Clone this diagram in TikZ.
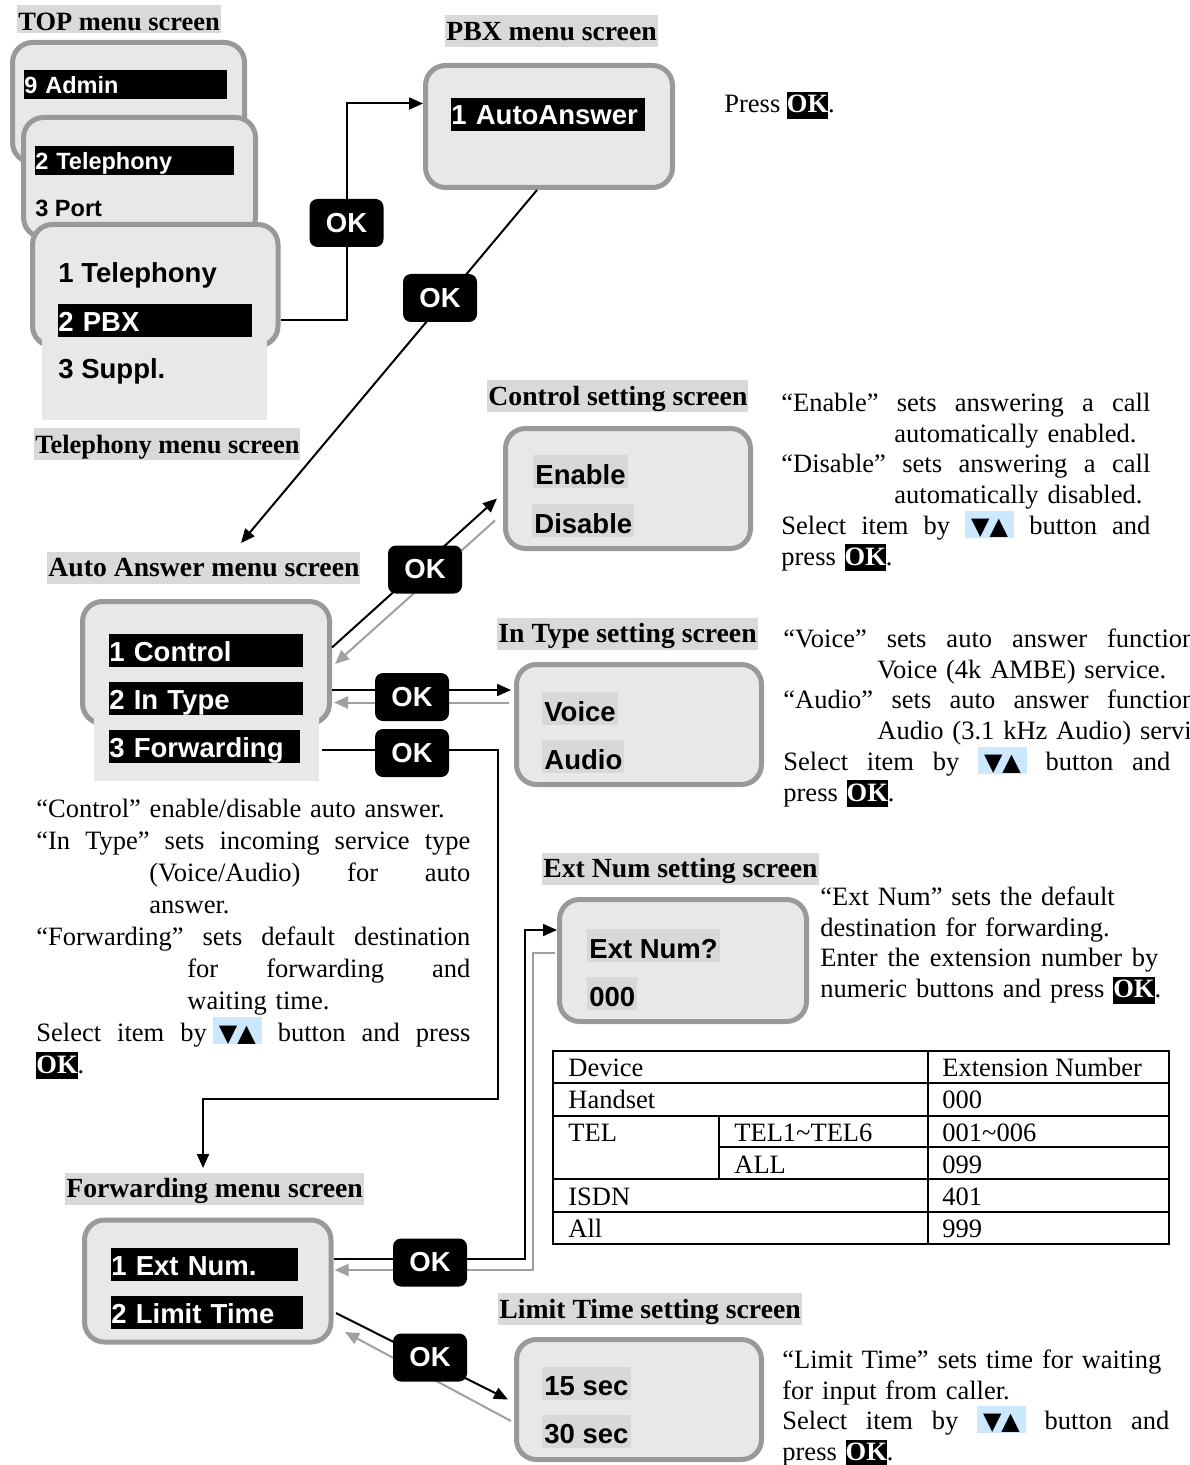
\documentclass[tikz,border=0pt]{standalone}
\usepackage{fontspec}
\setmainfont{Liberation Serif}
\newfontfamily\lcdfont{Liberation Sans}
\newfontfamily\dvsym{DejaVu Sans}
\usetikzlibrary{fit,arrows.meta,calc}
\definecolor{scrfill}{HTML}{E8E8E8}
\definecolor{scrdraw}{HTML}{999999}
\definecolor{headbg}{HTML}{D9D9D9}
\definecolor{lblbg}{HTML}{D8D8D8}
\definecolor{backgray}{HTML}{A0A0A0}
\definecolor{keybg}{HTML}{CCE8FF}
\newcommand\okk{{\setlength\fboxsep{0pt}\smash{\colorbox{black}{\textcolor{white}{\bfseries\rule[-3pt]{0pt}{13.5pt}OK}}}}}
\newcommand\updn{{\setlength\fboxsep{0pt}\smash{\colorbox{keybg}{\rule[-1.5pt]{0pt}{13.5pt}\hspace{3pt}{\dvsym\fontsize{12}{12}\selectfont ▼▲}\hspace{3pt}}}}}
\newcommand\jl[2]{\makebox[#1][s]{\spaceskip=0.25em plus 10em\relax #2}}
\tikzset{
 screen/.style={draw=scrdraw, line width=2.5pt, fill=scrfill, rounded corners=10pt, inner sep=0pt},
 scrext/.style={fill=scrfill, draw=none, inner sep=0pt},
 head/.style={fill=headbg, font=\bfseries\fontsize{13.85}{15}\selectfont, inner xsep=0.5pt, inner ysep=0pt, text height=12.5pt, text depth=3.5pt, minimum height=16pt, anchor=west},
 bar/.style={fill=black, text=white, font=\lcdfont\bfseries\fontsize{13.75}{15}\selectfont, inner sep=0pt, anchor=west, align=left, minimum height=16.5pt, text height=13.5pt, text depth=3pt},
 smallbar/.style={bar, font=\lcdfont\bfseries\fontsize{11.75}{13}\selectfont, minimum height=14.5pt, text height=11.7pt, text depth=2.8pt},
 lbl/.style={fill=lblbg, font=\lcdfont\bfseries\fontsize{13.75}{15}\selectfont, inner xsep=1pt, inner ysep=0pt, text height=14.5pt, text depth=2pt, minimum height=16.5pt, anchor=west},
 lcdtxt/.style={font=\lcdfont\bfseries\fontsize{13.75}{15}\selectfont, inner sep=0pt, anchor=base west},
 okbtn/.style={fill=black, rounded corners=4pt, text=white, font=\lcdfont\bfseries\fontsize{13.75}{15}\selectfont, minimum width=37pt, minimum height=24pt, inner sep=0pt},
 conn/.style={draw=black, line width=1pt, -{Triangle[length=7pt,width=6pt]}},
 backconn/.style={draw=backgray, line width=1pt, -{Triangle[length=7pt,width=6pt]}},
 desc/.style={font=\fontsize{13.25}{15.4}\selectfont, inner sep=0pt, anchor=north west, align=left, text width=#1},
 tbl/.style={draw=black, line width=1.2pt},
 tcell/.style={font=\fontsize{13.25}{15.4}\selectfont, inner sep=0pt, anchor=base west},
}
\begin{document}
\begin{tikzpicture}[x=0.5pt,y=-0.5pt]
\useasboundingbox (0,0) rectangle (1189,1465);
\clip (0,0) rectangle (1189,1465);

% ---------- headings ----------
\node[head, font=\bfseries\fontsize{13.2}{15}\selectfont, text height=13pt, text depth=1pt, minimum height=14pt] (headTop) at (17,19) {TOP menu screen};
\node[head] (headPbx) at (445,31.5) {PBX menu screen};
\node[head, font=\bfseries\fontsize{13.2}{15}\selectfont] (headTel) at (34,444) {Telephony menu screen};
\node[head] (headCtrl) at (487,396) {Control setting screen};
\node[head] (headAA) at (47,567.5) {Auto Answer menu screen};
\node[head] (headIT) at (497,633.5) {In Type setting screen};
\node[head] (headExt) at (542,868.5) {Ext Num setting screen};
\node[head] (headFwd) at (65,1188.5) {Forwarding menu screen};
\node[head] (headLim) at (498,1309) {Limit Time setting screen};

% ---------- TOP / Telephony stack ----------
\node[screen, fit={(12.5,42.5) (244.5,162.5)}] (scrTop) {};
\node[smallbar, text width=101.5pt] (barAdmin) at (24,84.5) {9 Admin};
\node[screen, fit={(23.5,117.5) (255.5,237.5)}] (scrTel2) {};
\node[smallbar, text width=99.5pt] (barTel2) at (35,160.5) {2 Telephony};
\node[lcdtxt, font=\lcdfont\bfseries\fontsize{11.75}{13}\selectfont] (txtPort) at (35,217) {3 Port};
\node[screen, fit={(32.5,224.5) (278,346)}] (scrTel) {};
\node[scrext, fit={(42,336) (267,420)}] (extTel) {};
\node[lcdtxt] (txtTel1) at (58,283) {1 Telephony};
\node[bar, text width=97pt] (barPBX) at (58,320.5) {2 PBX};
\node[lcdtxt] (txtSuppl) at (58,379) {3 Suppl.};

% ---------- PBX ----------
\node[screen, fit={(425.5,65.5) (672.5,187.5)}] (scrPbx) {};
\node[bar, text width=97pt] (barAuto) at (451,114.5) {1 AutoAnswer};
\node[anchor=base west, inner sep=0pt, font=\fontsize{13.25}{15.4}\selectfont] (pressok) at (724,113) {Press \okk.};

% ---------- Control ----------
\node[screen, fit={(505.5,428.5) (750.5,548.5)}] (scrCtrl) {};
\node[lbl] (lblEnable) at (533,471.5) {Enable};
\node[lbl] (lblDisable) at (532,520.5) {Disable};
\node[desc=200pt] (txtCtrl) at (781,389.4) {\strut\jl{184.5pt}{“Enable” sets answering a call}\\
\hspace*{56.5pt}automatically enabled.\\
\jl{184.5pt}{“Disable” sets answering a call}\\
\hspace*{56.5pt}automatically disabled.\\
\jl{184.5pt}{Select item by \updn{} button and}\\
press \okk.};

% ---------- Auto Answer ----------
\node[screen, fit={(82.5,601.5) (329.5,723.5)}] (scrAA) {};
\node[scrext, fit={(94,714) (319,781)}] (extAA) {};
\node[bar, text width=97pt] (barCtrl) at (109,650.5) {1 Control};
\node[bar, text width=97pt] (barInType) at (109,698.5) {2 In Type};
\node[bar, text width=95.5pt] (barFwd) at (109,746.5) {3 Forwarding};
\node[desc=220pt, font=\fontsize{13.25}{16}\selectfont] (txtAA) at (36,794.6) {\strut“Control” enable/disable auto answer.\\
\jl{217pt}{“In Type” sets incoming service type}\\
\hspace*{56.5pt}\jl{160.5pt}{(Voice/Audio) for auto}\\
\hspace*{56.5pt}answer.\\
\jl{217pt}{“Forwarding” sets default destination}\\
\hspace*{75.5pt}\jl{141.5pt}{for forwarding and}\\
\hspace*{75.5pt}waiting time.\\
\jl{217pt}{Select item by\hspace{3pt}\updn{} button and press}\\
\okk.};

% ---------- In Type ----------
\node[screen, fit={(516.5,664.5) (761.5,784.5)}] (scrIT) {};
\node[lbl] (lblVoice) at (542,708.5) {Voice};
\node[lbl] (lblAudio) at (542,756.5) {Audio};
\node[desc=280pt] (txtIT) at (783,625.4) {\strut\jl{206pt}{“Voice” sets auto answer function}\\
\hspace*{47pt}Voice (4k AMBE) service.\\
\jl{206pt}{“Audio” sets auto answer function}\\
\hspace*{47pt}Audio (3.1 kHz Audio) service.\\
\jl{193.5pt}{Select item by \updn{} button and}\\
press \okk.};

% ---------- Ext Num ----------
\node[screen, fit={(559.5,899.5) (806.5,1021.5)}] (scrExt) {};
\node[lbl] (lblExtNum) at (587,945.5) {Ext Num?};
\node[lbl] (lblZero) at (587,993.5) {000};
\node[desc=175pt] (txtExt) at (820,883.4) {\strut“Ext Num” sets the default\\
destination for forwarding.\\
\jl{169pt}{Enter the extension number by}\\
numeric buttons and press \okk.};

% ---------- table ----------
\draw[tbl] (553,1051) rectangle (1169,1244);
\draw[tbl] (928,1051) -- (928,1244);
\draw[tbl] (553,1083) -- (1169,1083);
\draw[tbl] (553,1116) -- (1169,1116);
\draw[tbl] (719,1147) -- (1169,1147);
\draw[tbl] (553,1179) -- (1169,1179);
\draw[tbl] (553,1212) -- (1169,1212);
\draw[tbl] (719,1116) -- (719,1179);
\node[tcell] (t11) at (568,1076) {Device};
\node[tcell] (t13) at (942,1076) {Extension Number};
\node[tcell] (t21) at (568,1108) {Handset};
\node[tcell] (t23) at (942,1108) {000};
\node[tcell] (t31) at (568,1141) {TEL};
\node[tcell] (t32) at (734,1141) {TEL1\textasciitilde TEL6};
\node[tcell] (t33) at (942,1141) {001\textasciitilde 006};
\node[tcell] (t42) at (734,1173) {ALL};
\node[tcell] (t43) at (942,1173) {099};
\node[tcell] (t51) at (568,1205) {ISDN};
\node[tcell] (t53) at (942,1205) {401};
\node[tcell] (t61) at (568,1237) {All};
\node[tcell] (t63) at (942,1237) {999};

% ---------- Forwarding ----------
\node[screen, fit={(84.5,1220) (331,1342)}] (scrFwd) {};
\node[bar, text width=93.5pt] (barExt) at (111,1264.5) {1 Ext Num.};
\node[bar, text width=96pt] (barLimit) at (111,1312.5) {2 Limit Time};

% ---------- Limit Time ----------
\node[screen, fit={(516.5,1339.5) (761.5,1459.5)}] (scrLim) {};
\node[lbl] (lbl15) at (542,1383) {15 sec};
\node[lbl] (lbl30) at (542,1431) {30 sec};
\node[desc=200pt] (txtLim) at (782,1346.4) {\strut“Limit Time” sets time for waiting\\
for input from caller.\\
\jl{193.5pt}{Select item by \updn{} button and}\\
press \okk.};

% ---------- connectors ----------
\draw[conn] (scrTel.east |- barPBX.east) -| (346.5,223) node[okbtn] (ok1) {OK} |- ($(scrPbx.west)+(0,-23)$);

\coordinate (tipAA) at (241,543);
\draw[conn] ($(scrPbx.south)+(-12,0)$) -- (tipAA);
\node[okbtn] (ok2) at (440,298) {OK};

\draw[conn] ($(scrAA.east)+(0,-15)$) -- ($(scrCtrl.west)+(-6,10)$);
\draw[backconn] ($(scrCtrl.west)+(-8,32)$) -- ($(scrAA.east)+(3,1.5)$);
\node[okbtn] (ok3) at (425,569.5) {OK};

\draw[conn] ($(scrAA.east)+(0,27.5)$) -- ($(scrIT.west)+(-3,-34.5)$);
\draw[backconn] ($(scrIT.west)+(-5,-22)$) -- ($(scrAA.east)+(2,40)$);
\node[okbtn] (ok4) at (412,697) {OK};

\coordinate (tipFwd) at (203,1168);
\draw[conn] ($(extAA.east)+(3,2.5)$) -- (498,750) |- (203,1099) -- (tipFwd);
\node[okbtn] (ok5) at (412,753) {OK};

\draw[conn] ($(scrFwd.east)+(0,-22)$) -| (525,930) -- ($(scrExt.west)+(0,-30.5)$);
\draw[backconn] ($(scrExt.west)+(-2,-7.5)$) -| (533,1270) -- ($(scrFwd.east)+(1,-11)$);
\node[okbtn] (ok6) at (430,1262.5) {OK};

\draw[conn] ($(scrFwd.east)+(2.5,32)$) -- ($(scrLim.west)+(-6,0)$);
\draw[backconn] ($(scrLim.west)+(-3,21.5)$) -- ($(scrFwd.east)+(11.5,51)$);
\node[okbtn] (ok7) at (430,1357.5) {OK};
\end{tikzpicture}
\end{document}
